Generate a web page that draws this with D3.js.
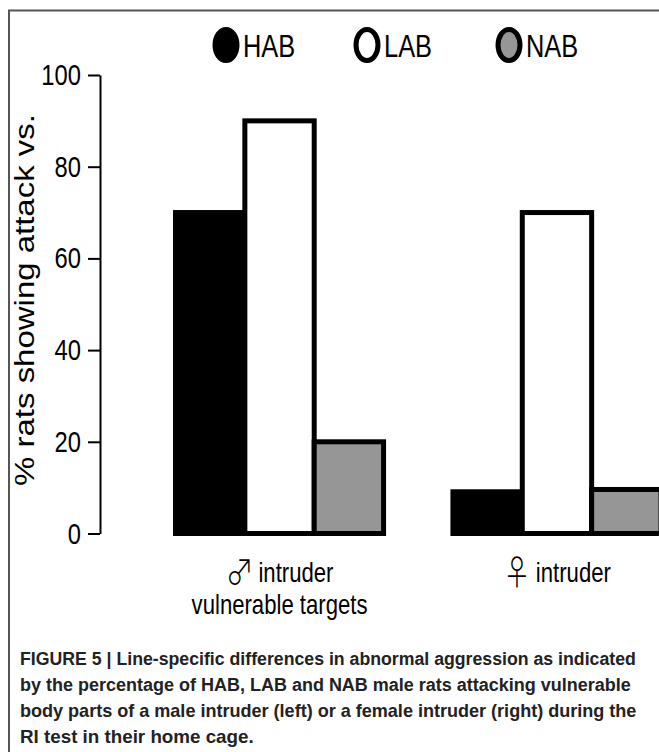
<!DOCTYPE html>
<html>
<head>
<meta charset="utf-8">
<script src="https://cdn.jsdelivr.net/npm/d3@7"></script>
<style>
  body { margin: 0; background: #fff; }
  svg { display: block; }
  text { font-family: "Liberation Sans", Arial, sans-serif; }
</style>
</head>
<body>
<div id="viz"></div>
<script>
// data
var groups = ['male', 'female'];
var series = ['HAB', 'LAB', 'NAB'];
var habValues = [70, 9.1];
var labValues = [90, 70];
var nabValues = [20, 9.6];
var yTicks = [0, 20, 40, 60, 80, 100];
var groupSymbols = ['\u2642', '\u2640'];
var groupLabels = [['intruder', 'vulnerable targets'], ['intruder']];
var captionLines = [
    'FIGURE 5 | Line-specific differences in abnormal aggression as indicated',
    'by the percentage of HAB, LAB and NAB male rats attacking vulnerable',
    'body parts of a male intruder (left) or a female intruder (right) during the',
    'RI test in their home cage.'
];

var width = 659,
    height = 752;

var colors = { HAB: '#000', LAB: '#fff', NAB: '#969696' };

var barData = [];
groups.forEach(function(g, i) {
    barData.push({ group: g, key: 'HAB', value: habValues[i] });
    barData.push({ group: g, key: 'LAB', value: labValues[i] });
    barData.push({ group: g, key: 'NAB', value: nabValues[i] });
});

var yScale = d3.scaleLinear()
    .domain([0, 100])
    .range([533.5, 75]);

var x0 = d3.scaleBand()
    .domain(groups)
    .range([175.5, 661])
    .paddingInner(0.25)
    .paddingOuter(0);

var x1 = d3.scaleBand()
    .domain(series)
    .range([0, x0.bandwidth()]);

var svg = d3.select('#viz').append('svg')
    .attr('width', width)
    .attr('height', height);

// frame (only top and left edges visible)
svg.append('path')
    .attr('d', 'M9,' + height + 'V10.5H' + width)
    .attr('fill', 'none')
    .attr('stroke', '#555')
    .attr('stroke-width', 2);

// narrow text helper (horizontally squeezed sans)
function narrow(sel, x, y, s) {
    return sel.attr('transform', 'translate(' + x + ',' + y + ') scale(' + (s || 0.82) + ',1)');
}

// squeeze a text to a given length along its baseline
function fitTo(sel, len) {
    var natural = sel.node().getComputedTextLength();
    return natural > 0 ? len / natural : 1;
}

// legend
var legendX = [226, 367, 509];
var legend = svg.selectAll('.legend').data(series)
    .enter().append('g')
    .attr('class', 'legend');

legend.append('ellipse')
    .attr('cx', function(d, i) { return legendX[i]; })
    .attr('cy', 45)
    .attr('rx', 11)
    .attr('ry', 15.5)
    .attr('fill', function(d) { return colors[d]; })
    .attr('stroke', '#000')
    .attr('stroke-width', 5);

legend.append('text')
    .each(function(d, i) { narrow(d3.select(this), legendX[i] + 17, 57); })
    .attr('font-size', 31)
    .attr('fill', '#000')
    .text(function(d) { return d; });

// y axis
var yAxis = d3.axisLeft(yScale)
    .tickValues(yTicks)
    .tickSizeInner(12)
    .tickSizeOuter(0)
    .tickPadding(5);

var axisG = svg.append('g')
    .attr('transform', 'translate(100,0)')
    .call(yAxis);

axisG.select('.domain').attr('stroke-width', 2);
axisG.selectAll('.tick line').attr('stroke-width', 2);
axisG.selectAll('.tick text').remove();

svg.selectAll('.ylab').data(yTicks)
    .enter().append('text')
    .attr('class', 'ylab')
    .each(function(d) { narrow(d3.select(this), 81, yScale(d) + 10); })
    .attr('text-anchor', 'end')
    .attr('font-size', 29)
    .text(function(d) { return d; });

// y title
var yTitle = svg.append('text')
    .attr('text-anchor', 'middle')
    .attr('font-size', 27)
    .text('% rats showing attack vs.');
yTitle.attr('transform', 'translate(34,300) rotate(-90) scale(' + fitTo(yTitle, 372) + ',1)');

// bars
svg.selectAll('.bar').data(barData)
    .enter().append('rect')
    .attr('class', 'bar')
    .attr('x', function(d) { return x0(d.group) + x1(d.key); })
    .attr('width', x1.bandwidth())
    .attr('y', function(d) { return yScale(d.value); })
    .attr('height', function(d) { return yScale(0) - yScale(d.value); })
    .attr('fill', function(d) { return colors[d.key]; })
    .attr('stroke', '#000')
    .attr('stroke-width', 5);

// group labels
groups.forEach(function(g, i) {
    var cx = x0(g) + x0.bandwidth() / 2;
    groupLabels[i].forEach(function(line, j) {
        var t = svg.append('text')
            .attr('text-anchor', 'middle')
            .attr('font-size', 27);
        if (j === 0) {
            t.append('tspan')
                .attr('font-family', '"Noto Sans CJK JP", "DejaVu Sans", sans-serif')
                .attr('font-weight', 300)
                .attr('font-size', 34)
                .attr('dy', 3)
                .text(groupSymbols[i]);
            t.append('tspan').attr('dy', -3).attr('dx', 6).text(line);
        } else {
            t.text(line);
        }
        narrow(t, cx, 582 + j * 32);
    });
});

// caption
svg.selectAll('.caption').data(captionLines)
    .enter().append('text')
    .attr('class', 'caption')
    .attr('font-size', 19)
    .attr('font-weight', 'bold')
    .attr('fill', '#222')
    .text(function(d) { return d; })
    .each(function(d, i) {
        var t = d3.select(this);
        var s = fitTo(t, [616, 611, 617, 234][i]);
        t.attr('transform', 'translate(20,' + (665 + i * 26) + ') scale(' + s + ',1)');
    });
</script>
</body>
</html>
